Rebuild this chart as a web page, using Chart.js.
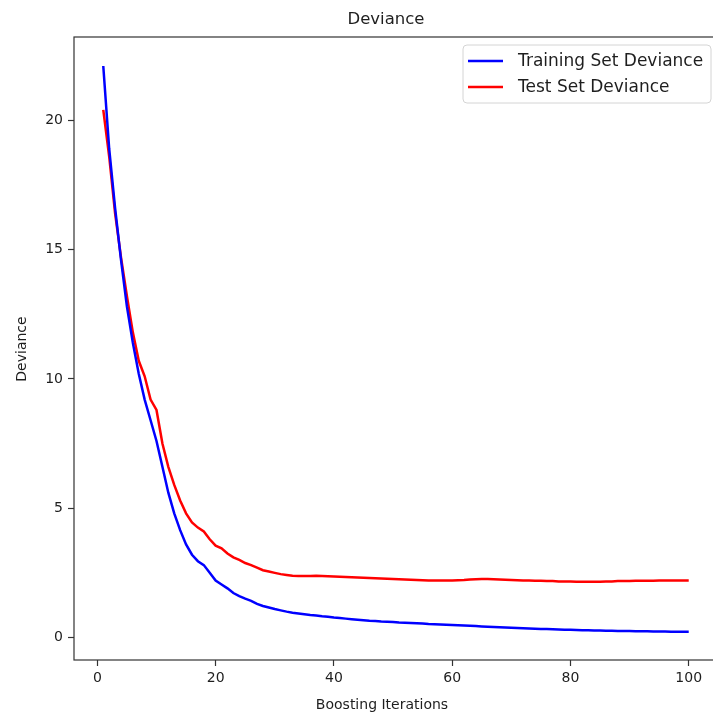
<!DOCTYPE html>
<html>
<head>
<meta charset="utf-8">
<script src="https://cdn.jsdelivr.net/npm/chart.js@4.4.1/dist/chart.umd.min.js"></script>
<style>
  html, body { margin: 0; padding: 0; background: #fff; overflow: hidden; }
  #wrap { position: absolute; left: 0; top: 0; width: 730px; height: 715px; }
</style>
</head>
<body>
<div id="wrap"><canvas id="chart" width="730" height="715"></canvas></div>
<script>
const iterations = Array.from({ length: 100 }, (_, i) => i + 1);

const trainDeviance = [
  22.1, 18.9, 16.6, 14.6, 12.8, 11.4, 10.2, 9.2, 8.4, 7.6,
  6.6, 5.6, 4.8, 4.15, 3.6, 3.2, 2.95, 2.8, 2.5, 2.2,
  2.05, 1.9, 1.72, 1.6, 1.5, 1.42, 1.3, 1.22, 1.16, 1.1,
  1.05, 1.0, 0.96, 0.93, 0.9, 0.87, 0.85, 0.82, 0.8, 0.77,
  0.75, 0.73, 0.71, 0.69, 0.67, 0.65, 0.64, 0.62, 0.61, 0.6,
  0.58, 0.57, 0.56, 0.55, 0.54, 0.52, 0.51, 0.5, 0.49, 0.48,
  0.47, 0.46, 0.45, 0.44, 0.43, 0.42, 0.41, 0.4, 0.39, 0.38,
  0.37, 0.36, 0.35, 0.34, 0.33, 0.33, 0.32, 0.31, 0.3, 0.3,
  0.29, 0.28, 0.28, 0.27, 0.27, 0.26, 0.26, 0.25, 0.25, 0.25,
  0.24, 0.24, 0.24, 0.23, 0.23, 0.23, 0.22, 0.22, 0.22, 0.22
];

const testDeviance = [
  20.4, 18.6, 16.4, 14.7, 13.2, 11.8, 10.7, 10.1, 9.2, 8.8,
  7.5, 6.6, 5.9, 5.3, 4.8, 4.45, 4.25, 4.1, 3.8, 3.55,
  3.45, 3.25, 3.1, 3.0, 2.88, 2.8, 2.7, 2.6, 2.55, 2.5,
  2.45, 2.42, 2.39, 2.38, 2.38, 2.38, 2.39, 2.38, 2.37, 2.36,
  2.35, 2.34, 2.33, 2.32, 2.31, 2.3, 2.29, 2.28, 2.27, 2.26,
  2.25, 2.24, 2.23, 2.22, 2.21, 2.2, 2.2, 2.2, 2.2, 2.2,
  2.21, 2.22, 2.24, 2.25, 2.26, 2.26, 2.25, 2.24, 2.23, 2.22,
  2.21, 2.2, 2.2, 2.19, 2.19, 2.18, 2.18, 2.17, 2.17, 2.17,
  2.16, 2.16, 2.16, 2.16, 2.16, 2.17, 2.17, 2.18, 2.18, 2.18,
  2.19, 2.19, 2.19, 2.19, 2.2, 2.2, 2.2, 2.2, 2.2, 2.2
];

const xTicks = [0, 20, 40, 60, 80, 100];
const yTicks = [0, 5, 10, 15, 20];

const seriesLabels = ["Training Set Deviance", "Test Set Deviance"];
const chartTitle = "Deviance";
const xLabel = "Boosting Iterations";
const yLabel = "Deviance";

const FONT = "'DejaVu Sans', sans-serif";
const TEXT = "#1e1e1e";

function toPoints(values) {
  return values.map((v, i) => ({ x: iterations[i], y: v }));
}

// frame, title, axis labels and legend box like matplotlib
const decorPlugin = {
  id: "decor",
  afterDraw(chart) {
    const { ctx, chartArea } = chart;
    ctx.save();
    ctx.strokeStyle = "#333";
    ctx.lineWidth = 1.2;
    ctx.strokeRect(chartArea.left, chartArea.top, chartArea.right - chartArea.left, chartArea.bottom - chartArea.top);

    ctx.fillStyle = TEXT;
    ctx.textAlign = "center";
    ctx.textBaseline = "middle";
    ctx.font = "16.5px " + FONT;
    ctx.fillText(chartTitle, 386, 20);

    ctx.font = "14px " + FONT;
    ctx.fillText(xLabel, 382, 705);

    ctx.save();
    ctx.translate(22, 349);
    ctx.rotate(-Math.PI / 2);
    ctx.fillText(yLabel, 0, 0);
    ctx.restore();

    // legend
    const bx = 463, by = 45, bw = 248, bh = 58, r = 4;
    ctx.beginPath();
    ctx.moveTo(bx + r, by);
    ctx.arcTo(bx + bw, by, bx + bw, by + bh, r);
    ctx.arcTo(bx + bw, by + bh, bx, by + bh, r);
    ctx.arcTo(bx, by + bh, bx, by, r);
    ctx.arcTo(bx, by, bx + bw, by, r);
    ctx.closePath();
    ctx.fillStyle = "rgba(255,255,255,0.85)";
    ctx.fill();
    ctx.strokeStyle = "#d4d4d4";
    ctx.lineWidth = 1;
    ctx.stroke();

    ctx.font = "17px " + FONT;
    ctx.textAlign = "left";
    chart.data.datasets.forEach((ds, i) => {
      const y = 61 + i * 26;
      ctx.strokeStyle = ds.borderColor;
      ctx.lineWidth = 2.5;
      ctx.beginPath();
      ctx.moveTo(468, y);
      ctx.lineTo(503, y);
      ctx.stroke();
      ctx.fillStyle = TEXT;
      ctx.fillText(ds.label, 518, y + 1);
    });
    ctx.restore();
  }
};

new Chart(document.getElementById("chart"), {
  type: "line",
  data: {
    datasets: [
      {
        label: seriesLabels[0],
        data: toPoints(trainDeviance),
        borderColor: "#0000ff",
        borderWidth: 2.5,
        pointRadius: 0,
        tension: 0,
        fill: false
      },
      {
        label: seriesLabels[1],
        data: toPoints(testDeviance),
        borderColor: "#ff0000",
        borderWidth: 2.5,
        pointRadius: 0,
        tension: 0,
        fill: false
      }
    ]
  },
  options: {
    responsive: false,
    animation: false,
    layout: { padding: { top: 37, right: 12, left: 0, bottom: 0 } },
    plugins: {
      legend: { display: false },
      title: { display: false },
      tooltip: { enabled: false }
    },
    scales: {
      x: {
        type: "linear",
        min: -3.95,
        max: 104.95,
        afterBuildTicks: (s) => { s.ticks = xTicks.map((v) => ({ value: v })); },
        afterFit: (s) => { s.height = 55; },
        grid: { drawOnChartArea: false, drawTicks: true, tickLength: 6, color: "#333", tickWidth: 1.2 },
        border: { display: false },
        ticks: { color: TEXT, font: { family: FONT, size: 14 }, padding: 4, maxRotation: 0 }
      },
      y: {
        type: "linear",
        min: -0.87,
        max: 23.22,
        afterBuildTicks: (s) => { s.ticks = yTicks.map((v) => ({ value: v })); },
        afterFit: (s) => { s.width = 74; },
        grid: { drawOnChartArea: false, drawTicks: true, tickLength: 6, color: "#333", tickWidth: 1.2 },
        border: { display: false },
        ticks: { color: TEXT, font: { family: FONT, size: 14 }, padding: 5 }
      }
    }
  },
  plugins: [decorPlugin]
});
</script>
</body>
</html>
